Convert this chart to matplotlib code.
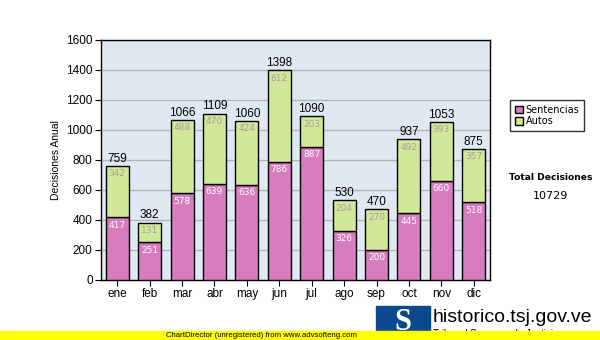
import matplotlib.pyplot as plt
import matplotlib.patches as mpatches
import numpy as np

meses = ["ene", "feb", "mar", "abr", "may", "jun", "jul", "ago", "sep", "oct", "nov", "dic"]
sentencias = [417, 251, 578, 639, 636, 786, 887, 326, 200, 445, 660, 518]
autos = [342, 131, 488, 470, 424, 612, 203, 204, 270, 492, 393, 357]
yticks = [0, 200, 400, 600, 800, 1000, 1200, 1400, 1600]

rosa = "#d87cc0"
verde = "#d2e898"

totales = [s + a for s, a in zip(sentencias, autos)]
total_general = sum(totales)

fig = plt.figure(figsize=(6, 3.4), dpi=100)
ax = fig.add_axes([101 / 600, 1 - 280 / 340, 389 / 600, 240 / 340])
ax.set_facecolor("#e0e9f2")

x = np.arange(len(meses))
ax.bar(x, sentencias, width=0.71, color=rosa, edgecolor="black", linewidth=1, zorder=3)
ax.bar(x, autos, width=0.71, bottom=sentencias, color=verde, edgecolor="black", linewidth=1, zorder=3)

# valores dentro de cada tramo y total encima
for i in range(len(meses)):
    ax.text(x[i], sentencias[i] - 22, str(sentencias[i]), ha="center", va="top",
            fontsize=6.5, color="white", family="DejaVu Sans", zorder=4)
    ax.text(x[i], totales[i] - 22, str(autos[i]), ha="center", va="top",
            fontsize=6.5, color="#a0a0a0", family="DejaVu Sans", zorder=4)
    ax.text(x[i], totales[i] + 8, str(totales[i]), ha="center", va="bottom",
            fontsize=8.5, color="black", family="Liberation Sans", zorder=4)

ax.set_xlim(-0.5, len(meses) - 0.5)
ax.set_ylim(0, 1600)
ax.set_yticks(yticks)
ax.set_xticks(x)
ax.set_xticklabels(meses, family="Liberation Sans", fontsize=8.5)
ax.tick_params(axis="y", labelsize=8.5, length=4, pad=2)
ax.tick_params(axis="x", length=4, pad=2)
for lbl in ax.get_yticklabels():
    lbl.set_family("Liberation Sans")
ax.grid(axis="y", color="#b4b4b4", linewidth=1, zorder=1)
ax.set_axisbelow(True)
for s in ax.spines.values():
    s.set_linewidth(1)
ax.set_ylabel("Decisiones Anual", fontsize=7.5, family="Liberation Sans", labelpad=4)

# leyenda
h = [mpatches.Patch(facecolor=rosa, edgecolor="black", label="Sentencias"),
     mpatches.Patch(facecolor=verde, edgecolor="black", label="Autos")]
leg = fig.legend(handles=h, loc="upper left", bbox_to_anchor=(510 / 600, 1 - 100 / 340),
                 fontsize=7, frameon=True, fancybox=False, edgecolor="black",
                 handlelength=0.8, handleheight=0.8, handletextpad=0.3,
                 borderpad=0.5, labelspacing=0.15, borderaxespad=0)
leg.get_frame().set_linewidth(1)

fig.text(551 / 600, 1 - 177 / 340, "Total Decisiones", ha="center", va="center",
         fontsize=6.6, fontweight="bold", family="DejaVu Sans")
fig.text(551 / 600, 1 - 196 / 340, str(total_general), ha="center", va="center",
         fontsize=8, family="DejaVu Sans")

# logo y dominio
fig.patches.append(mpatches.Rectangle((376 / 600, 1 - 333 / 340), 54 / 600, 27 / 340,
                                      transform=fig.transFigure, color="#0a4a8c", zorder=1))
fig.text(403 / 600, 1 - 322 / 340, "S", ha="center", va="center", fontsize=22,
         fontweight="bold", family="Liberation Serif", color="white", zorder=2)
fig.text(433 / 600, 1 - 317 / 340, "historico.tsj.gov.ve", ha="left", va="center",
         fontsize=14, family="Liberation Sans", color="black")
fig.text(433 / 600, 1 - 334 / 340, "Tribunal Supremo de Justicia", ha="left", va="center",
         fontsize=7, family="Liberation Sans", color="black", zorder=1)

# franja amarilla inferior
fig.patches.append(mpatches.Rectangle((0, 0), 1, 9 / 340, transform=fig.transFigure,
                                      color="#ffff00", zorder=5))
fig.text(261 / 600, 4.5 / 340, "ChartDirector (unregistered) from www.advsofteng.com",
         ha="center", va="center", fontsize=5.6, family="Liberation Sans", zorder=6)

fig.savefig("out.png", dpi=100)
